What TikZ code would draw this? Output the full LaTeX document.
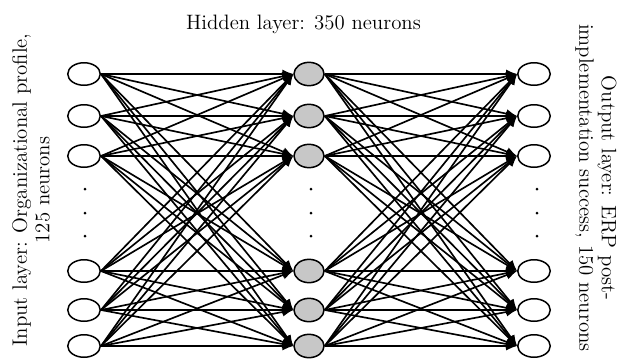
\documentclass[tikz,border=0pt]{standalone}
\usetikzlibrary{shapes.geometric,arrows.meta}
\begin{document}
\begin{tikzpicture}[x=0.6pt,y=-0.6pt,
  neuron/.style={ellipse,draw,line width=0.9pt,inner sep=0pt,minimum width=19.5pt,minimum height=13.5pt},
  hid/.style={neuron,fill=black!22,minimum width=18pt,minimum height=14pt},
  conn/.style={line width=1pt,-{Latex[length=6.5pt,width=5.5pt]}},
  dotn/.style={circle,fill=black,inner sep=0pt,minimum size=1.8pt},
  lbl/.style={font=\fontsize{12.5}{13.5}\selectfont,inner sep=0pt}]
\useasboundingbox (0,0) rectangle (618,359);
\foreach \y [count=\k] in {74,116,156,271,310,346}{
  \node[neuron] (i\k) at (84,\y) {};
  \node[hid] (h\k) at (309,\y) {};
  \node[neuron] (o\k) at (534,\y) {};
}
\foreach \y [count=\k] in {189,213,236}{
  \node[dotn] (di\k) at (85,\y) {};
  \node[dotn] (dh\k) at (311,\y) {};
  \node[dotn] (do\k) at (537,\y) {};
}
\foreach \a in {1,...,6}{
  \foreach \b in {1,...,6}{
    \draw[conn] (i\a.east) -- (h\b.west);
    \draw[conn] (h\a.east) -- (o\b.west);
  }
}
\node[lbl] (ht) at (303.5,24) {Hidden layer: 350 neurons};
\node[lbl,rotate=90,align=center] (il) at (31,190) {Input layer: Organizational profile,\\125 neurons};
\node[lbl,rotate=-90,align=center] (ol) at (596,188) {Output layer: ERP post-\\implementation success, 150 neurons};
\end{tikzpicture}
\end{document}
